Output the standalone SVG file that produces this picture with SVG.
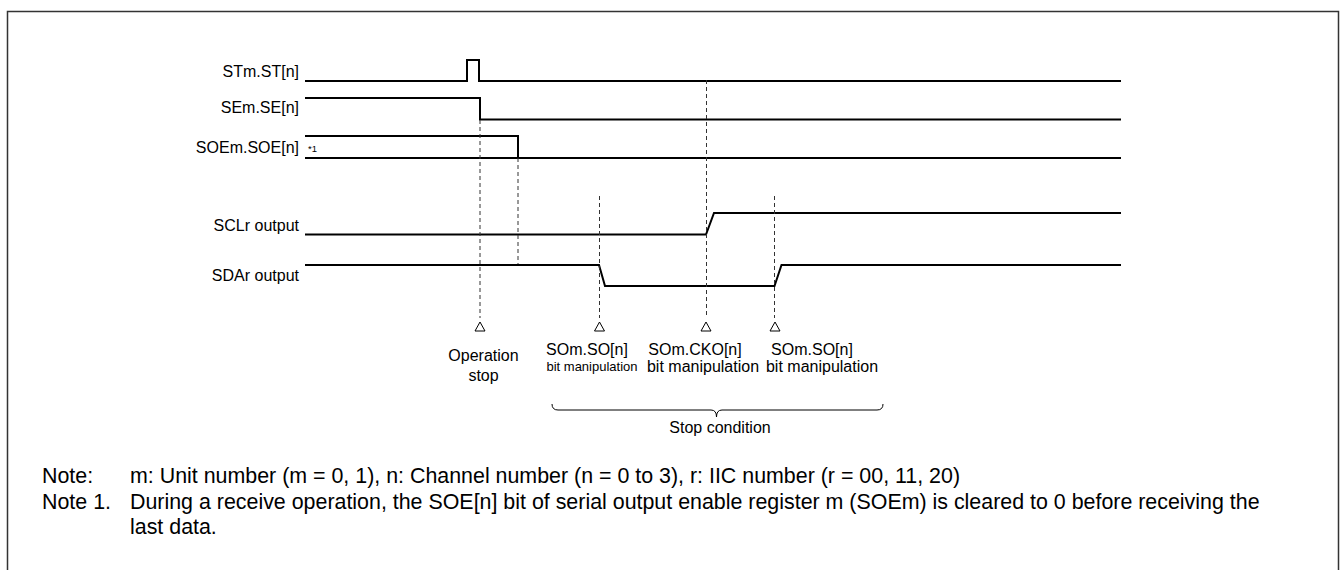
<svg xmlns="http://www.w3.org/2000/svg" width="1343" height="570" viewBox="0 0 1343 570">
<style>
.sig{fill:none;stroke:#000;stroke-width:2;stroke-linejoin:miter}
.dash{fill:none;stroke:#333;stroke-width:1;stroke-dasharray:4 3}
.tri{fill:#fff;stroke:#000;stroke-width:1}
.lbl{font-family:"Liberation Sans",Arial,sans-serif;font-size:16px;fill:#000}
.sm{font-family:"Liberation Sans",Arial,sans-serif;font-size:13px;fill:#000}
.note{font-family:"Liberation Sans",Arial,sans-serif;font-size:21.4px;fill:#000}
</style>
<rect width="1343" height="570" fill="#fff"/>
<path d="M7.5,570 V11.5 H1338.5 V570" fill="none" stroke="#333" stroke-width="1.5"/>
<g id="signals">
<g id="st"><text class="lbl" x="299" y="77" text-anchor="end">STm.ST[n]</text>
<path class="sig" d="M305,81 H467 V60 H479 V81 H1121"/></g>
<g id="se"><text class="lbl" x="299" y="113" text-anchor="end">SEm.SE[n]</text>
<path class="sig" d="M305,98 H480 V119.5 H1121"/></g>
<g id="soe"><text class="lbl" x="299" y="153" text-anchor="end">SOEm.SOE[n]</text>
<text x="308" y="152" font-family="Liberation Sans,Arial,sans-serif" font-size="9.5">*1</text>
<path class="sig" d="M305,136 H518 V158"/><path class="sig" d="M305,158 H1121"/></g>
<g id="scl"><text class="lbl" x="299" y="231" text-anchor="end">SCLr output</text>
<path class="sig" d="M305,234.5 H706 L714,213 H1121"/></g>
<g id="sda"><text class="lbl" x="299" y="281" text-anchor="end">SDAr output</text>
<path class="sig" d="M305,265 H599 L605,286 H774.5 L781.5,265 H1121"/></g>
</g>
<g id="connectors">
<line class="dash" x1="480" y1="120" x2="480" y2="318"/>
<line class="dash" x1="518" y1="158" x2="518" y2="264"/>
<line class="dash" x1="599.5" y1="196" x2="599.5" y2="318"/>
<line class="dash" x1="706.5" y1="80" x2="706.5" y2="318"/>
<line class="dash" x1="774.5" y1="196" x2="774.5" y2="318"/>
<path class="tri" d="M480,322 L485,331 H475 Z"/>
<path class="tri" d="M599.5,322 L604.5,331 H594.5 Z"/>
<path class="tri" d="M706,322 L711,331 H701 Z"/>
<path class="tri" d="M775,322 L780,331 H770 Z"/>
<path d="M552,404 Q552,410 558,410 H711 Q716.5,410 716.5,417 Q716.5,410 722,410 H877 Q883,410 883,404" fill="none" stroke="#000" stroke-width="1"/>
</g>
<g id="labels">
<text class="lbl" x="483.5" y="361" text-anchor="middle">Operation</text>
<text class="lbl" x="483.5" y="381" text-anchor="middle">stop</text>
<text class="lbl" x="587" y="355" text-anchor="middle">SOm.SO[n]</text>
<text class="sm" x="592" y="371" text-anchor="middle">bit manipulation</text>
<text class="lbl" x="695" y="355" text-anchor="middle">SOm.CKO[n]</text>
<text class="lbl" x="703" y="372" text-anchor="middle">bit manipulation</text>
<text class="lbl" x="812" y="355" text-anchor="middle">SOm.SO[n]</text>
<text class="lbl" x="822" y="372" text-anchor="middle">bit manipulation</text>
<text class="lbl" x="720" y="433" text-anchor="middle">Stop condition</text>
</g>
<g id="notes">
<text class="note" x="42" y="483">Note:</text>
<text class="note" x="130" y="483">m: Unit number (m = 0, 1), n: Channel number (n = 0 to 3), r: IIC number (r = 00, 11, 20)</text>
<text class="note" x="42" y="508.5">Note 1.</text>
<text class="note" x="130" y="508.5">During a receive operation, the SOE[n] bit of serial output enable register m (SOEm) is cleared to 0 before receiving the</text>
<text class="note" x="130" y="534">last data.</text>
</g>
</svg>
